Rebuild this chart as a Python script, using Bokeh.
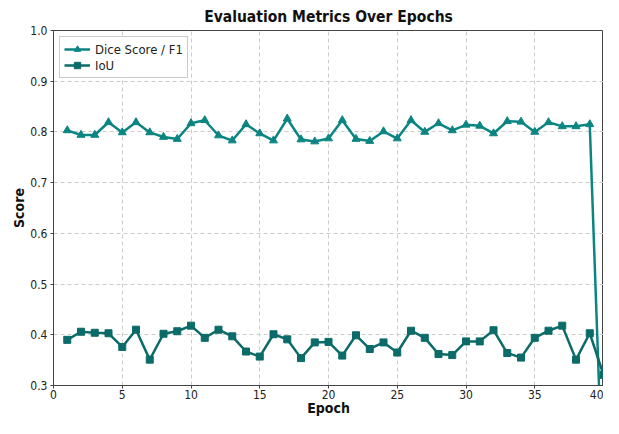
from bokeh.plotting import figure
from bokeh.models import Range1d, FixedTicker, NumeralTickFormatter, Legend, LegendItem
from bokeh.embed import file_html
from bokeh.resources import INLINE

epochs = list(range(1, 41))
dice = [0.803, 0.794, 0.794, 0.819, 0.799, 0.819, 0.799, 0.790, 0.786, 0.817,
        0.823, 0.793, 0.783, 0.815, 0.797, 0.783, 0.826, 0.785, 0.781, 0.787,
        0.823, 0.786, 0.782, 0.801, 0.787, 0.823, 0.800, 0.817, 0.803, 0.814,
        0.812, 0.797, 0.821, 0.820, 0.800, 0.819, 0.811, 0.811, 0.815, 0.05]
iou = [0.390, 0.406, 0.404, 0.403, 0.376, 0.410, 0.351, 0.402, 0.407, 0.418,
       0.394, 0.410, 0.397, 0.367, 0.357, 0.401, 0.391, 0.354, 0.385, 0.386,
       0.359, 0.399, 0.372, 0.385, 0.365, 0.408, 0.394, 0.362, 0.360, 0.387,
       0.387, 0.409, 0.364, 0.355, 0.394, 0.408, 0.418, 0.351, 0.403, 0.321]
x_ticks = [0, 5, 10, 15, 20, 25, 30, 35, 40]
y_ticks = [0.3, 0.4, 0.5, 0.6, 0.7, 0.8, 0.9, 1.0]

FONT = "DejaVu Sans Condensed"
DICE_C = "#0b8582"
IOU_C = "#0b6b68"

p = figure(width=603, height=418, output_backend="svg", toolbar_location=None,
           x_range=Range1d(0, 40), y_range=Range1d(0.3, 1.0),
           min_border_left=53, min_border_right=0, min_border_top=10, min_border_bottom=20,
           title="Evaluation Metrics Over Epochs")

p.title.text_font = FONT
p.title.text_font_size = "15.5px"
p.title.text_font_style = "bold"
p.title.align = "center"
p.title.text_color = "#111111"

p.outline_line_color = "#444444"
p.outline_line_width = 1
p.background_fill_color = "white"
p.border_fill_color = "white"

for ax in (p.xaxis, p.yaxis):
    ax.axis_line_color = "#444444"
    ax.major_tick_line_color = "#444444"
    ax.major_tick_out = 3
    ax.major_tick_in = 0
    ax.minor_tick_line_color = None
    ax.major_label_text_font = FONT
    ax.major_label_text_font_size = "12px"
    ax.major_label_text_color = "#222222"
    ax.axis_label_text_font = FONT
    ax.axis_label_text_font_size = "14px"
    ax.axis_label_text_font_style = "bold"
    ax.axis_label_text_color = "#111111"

p.xaxis.ticker = FixedTicker(ticks=x_ticks)
p.yaxis.ticker = FixedTicker(ticks=y_ticks)
p.yaxis.formatter = NumeralTickFormatter(format="0.0")
p.xaxis.axis_label = "Epoch"
p.yaxis.axis_label = "Score"
p.xaxis.major_label_standoff = 1
p.xaxis.axis_label_standoff = -2
p.yaxis.axis_label_standoff = 0
p.yaxis.major_label_standoff = 3

for g in (p.xgrid, p.ygrid):
    g.grid_line_color = "#cccccc"
    g.grid_line_dash = "4 3"
    g.grid_line_width = 1

l1 = p.line(epochs, dice, line_color=DICE_C, line_width=2.5)
m1 = p.scatter(epochs, dice, marker="triangle", size=8, fill_color=DICE_C, line_color=DICE_C)
l2 = p.line(epochs, iou, line_color=IOU_C, line_width=2.5)
m2 = p.scatter(epochs, iou, marker="square", size=7, fill_color=IOU_C, line_color=IOU_C)

legend = Legend(items=[LegendItem(label="Dice Score / F1", renderers=[l1, m1]),
                       LegendItem(label="IoU", renderers=[l2, m2])],
                location="top_left")
legend.label_text_font = FONT
legend.label_text_font_size = "13px"
legend.label_text_color = "#222222"
legend.border_line_color = "#cccccc"
legend.border_line_alpha = 1
legend.background_fill_alpha = 0.9
legend.spacing = 0
legend.padding = 4
legend.margin = 6
legend.glyph_width = 26
legend.label_height = 16
legend.glyph_height = 16
p.add_layout(legend)

open("out.html", "w").write(file_html(p, INLINE))
